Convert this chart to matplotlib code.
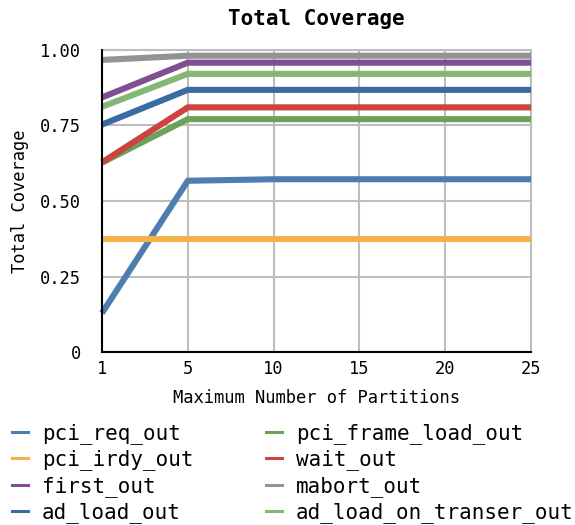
import matplotlib.pyplot as plt
import numpy as np
from matplotlib.lines import Line2D

# Categories on the x axis (Excel-style category axis, equally spaced)
partitions = ['1', '5', '10', '15', '20', '25']

series_names = ['pci_req_out', 'pci_irdy_out', 'first_out', 'ad_load_out',
                'pci_frame_load_out', 'wait_out', 'mabort_out', 'ad_load_on_transer_out']

pci_req_out = [0.129, 0.567, 0.572, 0.572, 0.572, 0.572]
pci_irdy_out = [0.373, 0.373, 0.373, 0.373, 0.373, 0.373]
first_out = [0.843, 0.958, 0.958, 0.958, 0.958, 0.958]
ad_load_out = [0.753, 0.868, 0.868, 0.868, 0.868, 0.868]
pci_frame_load_out = [0.627, 0.771, 0.771, 0.771, 0.771, 0.771]
wait_out = [0.628, 0.810, 0.810, 0.810, 0.810, 0.810]
mabort_out = [0.967, 0.981, 0.981, 0.981, 0.981, 0.981]
ad_load_on_transer_out = [0.812, 0.921, 0.921, 0.921, 0.921, 0.921]

values = [pci_req_out, pci_irdy_out, first_out, ad_load_out,
          pci_frame_load_out, wait_out, mabort_out, ad_load_on_transer_out]
colors = ['#4E7DB0', '#F2B24A', '#7F4F91', '#3A6BA2',
          '#6AA357', '#CC4340', '#939393', '#82B874']

plt.rcParams['font.family'] = ['DejaVu Sans Mono']

fig = plt.figure(figsize=(5.75, 5.25), dpi=100)
ax = fig.add_axes([0.1774, 0.3295, 0.7461, 0.5753])

x = np.arange(len(partitions))
for name, vals, c in zip(series_names, values, colors):
    ax.plot(x, vals, color=c, lw=4.4, solid_capstyle='butt', solid_joinstyle='miter',
            label=name, zorder=3, clip_on=False)

ax.set_xlim(0, len(partitions) - 1)
ax.set_ylim(0, 1)
ax.set_xticks(x)
ax.set_xticklabels(partitions)
ax.set_yticks([0, 0.25, 0.5, 0.75, 1.0])
ax.set_yticklabels(['0', '0.25', '0.50', '0.75', '1.00'])
ax.tick_params(axis='y', length=0, labelsize=12.3, pad=15)
ax.tick_params(axis='x', length=0, labelsize=12.3, pad=6)
ax.grid(True, color='#BEBEBE', lw=1.5, zorder=0)

for side in ['top', 'right']:
    ax.spines[side].set_color('#BEBEBE')
    ax.spines[side].set_linewidth(1.5)
for side in ['left', 'bottom']:
    ax.spines[side].set_color('black')
    ax.spines[side].set_linewidth(1.5)
    ax.spines[side].set_zorder(4)

ax.set_title('Total Coverage', fontsize=15, fontweight='bold', pad=18)
ax.set_xlabel('Maximum Number of Partitions', fontsize=12.3, labelpad=8)
ax.set_ylabel('Total Coverage', fontsize=12.3, labelpad=8)

handles = [Line2D([], [], color=c, lw=2.2) for c in colors]
fig.legend(handles, series_names, ncol=2, loc='upper left',
           bbox_to_anchor=(0.021, 0.194), frameon=False, fontsize=15,
           handlelength=0.77, handletextpad=0.67, labelspacing=0.26,
           columnspacing=3.46, borderaxespad=0, borderpad=0)

fig.savefig('out.png', dpi=100)
